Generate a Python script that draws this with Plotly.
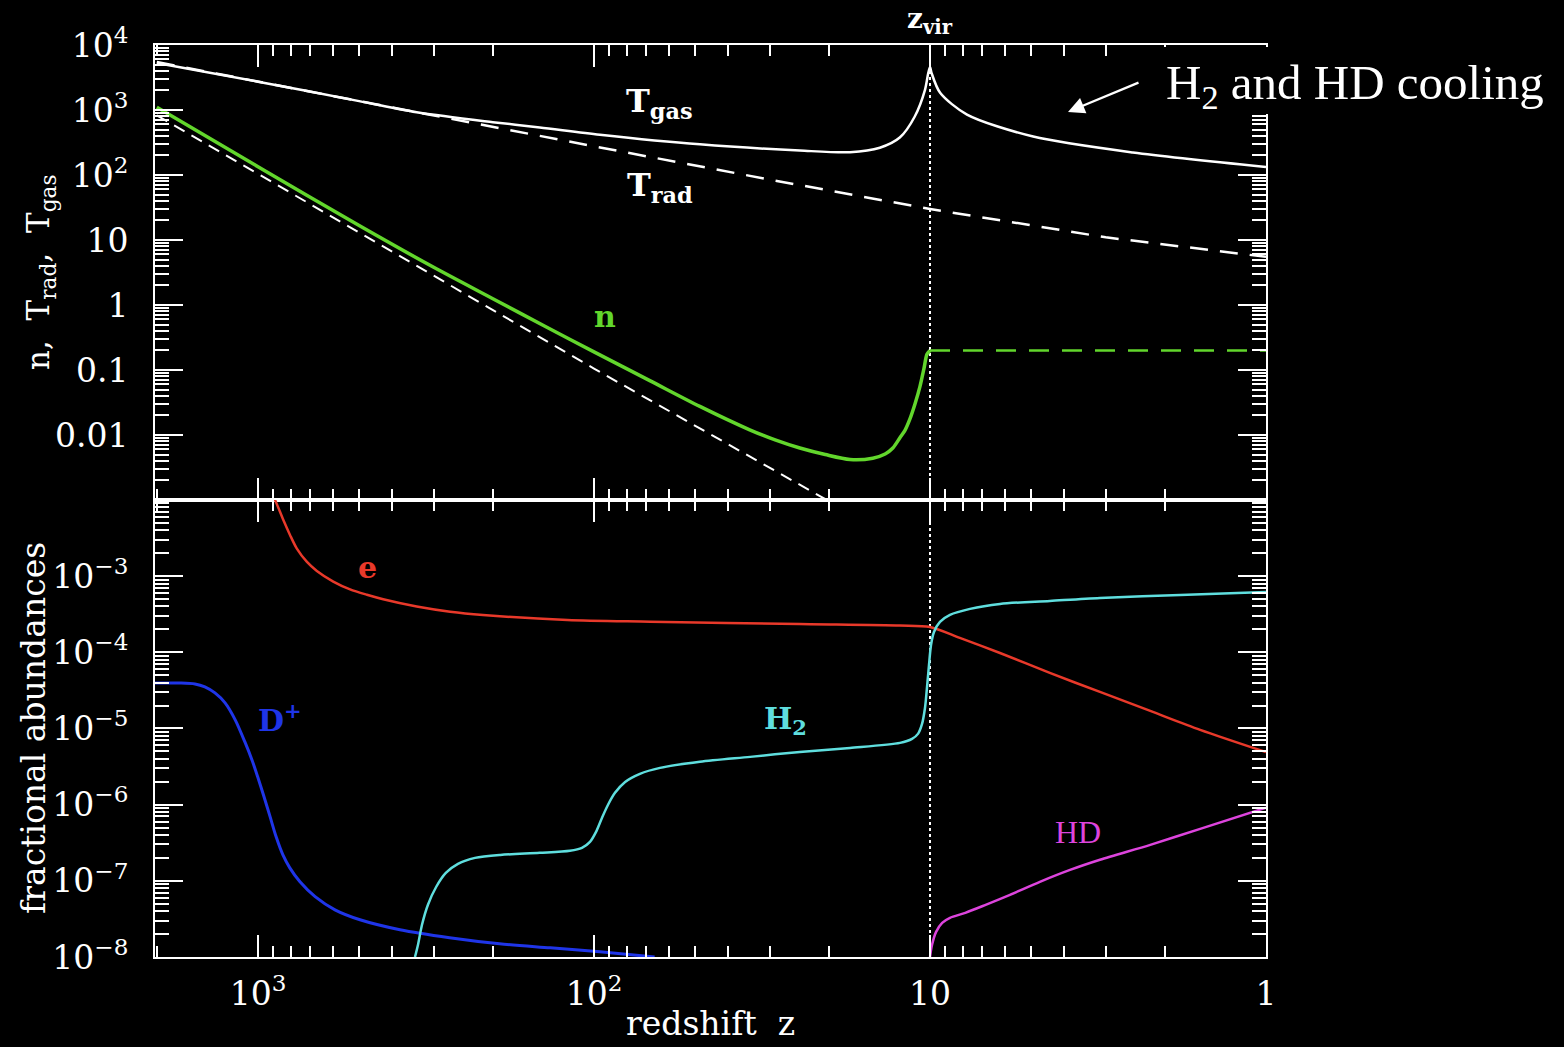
import math
import plotly.graph_objects as go
from plotly.subplots import make_subplots

# ---------------- data ----------------
Z_VIR = 10.0

# radiation temperature (K)
TRAD_Z = [2000, 1000, 300, 100, 30, 10, 3, 1]
TRAD_T = [5460, 2730, 820, 276, 85, 30, 11, 5.5]

# gas temperature (K)
TGAS_Z = [2000, 1000, 500, 330, 200, 145, 96, 48.4, 24.4, 17.3, 14.1, 12.3, 11.1,
          10.35, 10.12, 10.0, 9.89, 9.33, 7.76, 4.93, 2.49, 1]
TGAS_T = [5300, 2730, 1370, 904, 650, 540, 417, 296, 238, 224, 263, 377, 795,
          2040, 3700, 4600, 3700, 1840, 850, 390, 222, 133]

# gas number density (cm^-3) of the collapsing halo
N_Z = [2000, 1000, 500, 300, 200, 140, 100, 68, 48.4, 34.4, 28.9, 24.4, 20.5, 17.3,
       14.8, 13.6, 12.9, 12.3, 11.86, 11.48, 11.09, 10.71, 10.42, 10.21, 10.0]
N_GAS = [1100, 134, 16.7, 3.8, 1.25, 0.47, 0.19, 0.068, 0.0275, 0.012, 0.0084,
         0.0063, 0.0050, 0.0042, 0.0044, 0.0051, 0.0063, 0.0090, 0.0119, 0.0175,
         0.0297, 0.056, 0.106, 0.174, 0.2]

# virialised density after z_vir
NVIR_Z = [10, 1]
NVIR = [0.2, 0.2]

# mean background density
NBG_Z = [2000, 1000, 100, 20]
NBG = [830, 104, 0.105, 0.00096]

# fractional abundances
E_Z = [900, 883, 841, 803, 767, 716, 668, 597, 532, 474, 424, 337, 268, 214, 120, 68,
       24.4, 12.3, 10, 8.15, 6.19, 4.4, 3.12, 2.21, 1.57, 1]
E_X = [1.1e-2, 9.3e-3, 5.5e-3, 3.48e-3, 2.32e-3, 1.55e-3, 1.17e-3, 8.5e-4, 6.7e-4,
       5.7e-4, 4.98e-4, 4.0e-4, 3.42e-4, 3.1e-4, 2.66e-4, 2.53e-4, 2.35e-4, 2.25e-4,
       2.15e-4, 1.545e-4, 9.8e-5, 5.37e-5, 3.02e-5, 1.70e-5, 9.6e-6, 4.9e-6]

DP_Z = [2025, 1706, 1540, 1439, 1343, 1253, 1169, 1094, 1042, 1000, 959, 920, 883,
        843, 804, 750, 676, 590, 497, 378, 269, 191, 135, 96, 66]
DP_X = [3.96e-5, 3.96e-5, 3.85e-5, 3.52e-5, 2.93e-5, 2.17e-5, 1.30e-5, 6.67e-6,
        3.87e-6, 2.25e-6, 1.26e-6, 6.9e-7, 3.78e-7, 2.19e-7, 1.48e-7, 9.7e-8,
        6.2e-8, 4.16e-8, 3.08e-8, 2.28e-8, 1.79e-8, 1.49e-8, 1.32e-8, 1.17e-8, 1.0e-8]

H2_Z = [341, 334, 325, 312, 295, 276, 254, 226, 190, 145, 118, 108.6, 102.8, 98.6,
        94.7, 90.9, 86.6, 80.8, 73.0, 63.6, 48.4, 34.3, 24.4, 17.3, 12.28, 11.31,
        10.86, 10.56, 10.35, 10.21, 10.07, 9.93, 9.73, 9.34, 8.72, 7.60, 6.19, 4.40,
        3.12, 1.80, 1]
H2_X = [1.0e-8, 1.45e-8, 2.65e-8, 4.85e-8, 8.3e-8, 1.27e-7, 1.67e-7, 2.0e-7,
        2.19e-7, 2.33e-7, 2.48e-7, 2.71e-7, 3.25e-7, 4.4e-7, 6.7e-7, 9.9e-7, 1.43e-6,
        1.99e-6, 2.54e-6, 3.04e-6, 3.65e-6, 4.24e-6, 4.93e-6, 5.56e-6, 6.47e-6,
        7.3e-6, 8.5e-6, 1.15e-5, 1.86e-5, 3.41e-5, 6.8e-5, 1.25e-4, 1.85e-4, 2.51e-4,
        3.1e-4, 3.72e-4, 4.32e-4, 4.73e-4, 5.18e-4, 5.66e-4, 6.2e-4]

HD_Z = [10, 9.86, 9.59, 9.2, 8.72, 7.85, 6.83, 5.78, 4.71, 3.83, 3.12, 2.21, 1.57, 1]
HD_X = [1.0e-8, 1.45e-8, 2.14e-8, 2.81e-8, 3.27e-8, 3.8e-8, 4.84e-8, 6.55e-8,
        9.7e-8, 1.39e-7, 1.89e-7, 2.97e-7, 4.81e-7, 9.1e-7]

X_TICKS = [1000, 100, 10, 1]
X_TICKTEXT = ["10<sup>3</sup>", "10<sup>2</sup>", "10", "1"]
YT_TICKS = [1e4, 1e3, 1e2, 10, 1, 0.1, 0.01]
YT_TICKTEXT = ["10<sup>4</sup>", "10<sup>3</sup>", "10<sup>2</sup>", "10", "1", "0.1", "0.01"]
YB_TICKS = [1e-3, 1e-4, 1e-5, 1e-6, 1e-7, 1e-8]
YB_TICKTEXT = ["10<sup>−3</sup>", "10<sup>−4</sup>", "10<sup>−5</sup>",
               "10<sup>−6</sup>", "10<sup>−7</sup>", "10<sup>−8</sup>"]

# ---------------- styling ----------------
WHITE = "white"
GREEN = "#62d62c"
RED = "#e8392a"
BLUE = "#1f35e8"
CYAN = "#5fdede"
MAGENTA = "#dd44dd"
SERIF = "DejaVu Serif"
TICK_FONT = dict(family=SERIF, size=33, color=WHITE)

W, H = 1564, 1047
L, R, T, B = 155, 298, 45, 90
PW, PH = W - L - R, H - T - B


def px(xp):
    return (xp - L) / PW


def py(yp):
    return (H - B - yp) / PH


def minor_vals(lo, hi):
    vals = []
    for e in range(lo, hi + 1):
        for k in range(2, 10):
            vals.append(k * 10.0 ** e)
    return vals


fig = make_subplots(rows=2, cols=1, shared_xaxes=True, vertical_spacing=0)


def line(x, y, color, width, dash="solid", row=1, shape="spline"):
    fig.add_trace(go.Scatter(x=x, y=y, mode="lines",
                             line=dict(color=color, width=width, dash=dash,
                                       shape=shape, smoothing=0.8),
                             showlegend=False, hoverinfo="skip"), row=row, col=1)


# top panel
line([Z_VIR, Z_VIR], [1e-3, 1e4], WHITE, 2, dash="dot", shape="linear")
line(TRAD_Z, TRAD_T, WHITE, 2.5, dash="18px,12px", shape="linear")
line(NBG_Z, NBG, WHITE, 2, dash="12px,8px", shape="linear")
line(TGAS_Z, TGAS_T, WHITE, 2.5)
line(NVIR_Z, NVIR, GREEN, 2.5, dash="20px,13px", shape="linear")
line(N_Z, N_GAS, GREEN, 3.5)

# bottom panel
line([Z_VIR, Z_VIR], [1e-8, 1e-2], WHITE, 2, dash="dot", row=2, shape="linear")
line(DP_Z, DP_X, BLUE, 3, row=2)
line(E_Z, E_X, RED, 2.5, row=2)
line(H2_Z, H2_X, CYAN, 2.5, row=2)
line(HD_Z, HD_X, MAGENTA, 2.5, row=2)

common_axis = dict(showline=True, linecolor=WHITE, linewidth=2, mirror="ticks",
                   ticks="inside", tickcolor=WHITE, tickwidth=2, showgrid=False,
                   zeroline=False, tickfont=TICK_FONT)

fig.update_xaxes(common_axis, type="log", range=[3.3065, 0], tickvals=X_TICKS,
                 ticktext=X_TICKTEXT, ticklen=22,
                 minor=dict(tickvals=minor_vals(0, 3), ticks="inside", ticklen=11,
                            tickwidth=2, tickcolor=WHITE, showgrid=False))
fig.update_xaxes(showticklabels=False, row=1, col=1)
fig.update_xaxes(ticklabelstandoff=6, row=2, col=1)

fig.update_yaxes(common_axis, type="log", range=[-3, 4], tickvals=YT_TICKS,
                 ticktext=YT_TICKTEXT, ticklen=28, ticklabelstandoff=18,
                 domain=[0.5011, 1.0],
                 minor=dict(tickvals=minor_vals(-3, 3), ticks="inside", ticklen=14,
                            tickwidth=2, tickcolor=WHITE, showgrid=False),
                 row=1, col=1)
fig.update_yaxes(common_axis, type="log", range=[-8, -2], tickvals=YB_TICKS,
                 ticktext=YB_TICKTEXT, ticklen=28, ticklabelstandoff=18,
                 domain=[0.0, 0.5011],
                 minor=dict(tickvals=minor_vals(-8, -3), ticks="inside", ticklen=14,
                            tickwidth=2, tickcolor=WHITE, showgrid=False),
                 row=2, col=1)


def lab(text, z, val, color, size, xref="x", yref="y", family=SERIF):
    fig.add_annotation(text=text, x=math.log10(z), y=math.log10(val), xref=xref,
                       yref=yref, showarrow=False, xanchor="center", yanchor="middle",
                       font=dict(family=family, size=size, color=color))


def paper_text(text, xp, yp, size, angle=0, family=SERIF):
    fig.add_annotation(text=text, x=px(xp), y=py(yp), xref="paper", yref="paper",
                       showarrow=False, textangle=angle, xanchor="center",
                       yanchor="middle", font=dict(family=family, size=size, color=WHITE))


# curve labels
lab("<b>T<sub>gas</sub></b>", 63.7, 10 ** 3.112, WHITE, 32)
lab("<b>T<sub>rad</sub></b>", 63.7, 10 ** 1.81, WHITE, 32)
lab("<b>n</b>", 92.7, 10 ** -0.18, GREEN, 30)
lab("<b>e</b>", 471, 10 ** -2.89, RED, 30, xref="x2", yref="y2")
lab("<b>D<sup>+</sup></b>", 861, 10 ** -4.86, BLUE, 30, xref="x2", yref="y2")
lab("<b>H<sub>2</sub></b>", 27.0, 10 ** -4.89, CYAN, 30, xref="x2", yref="y2")
lab("HD", 3.63, 10 ** -6.36, MAGENTA, 32, xref="x2", yref="y2",
    family="Liberation Serif")

# z_vir marker above the frame
fig.add_annotation(text="<b>z<sub>vir</sub></b>", x=math.log10(Z_VIR), xref="x",
                   y=1.0, yref="paper", yanchor="bottom", yshift=4, xanchor="center",
                   showarrow=False, font=dict(family=SERIF, size=28, color=WHITE))

# axis titles
paper_text("n,  T<sub>rad</sub>,  T<sub>gas</sub>", 40, 272, 31, angle=-90)
paper_text("fractional abundances", 33, 728, 33, angle=-90)
paper_text("redshift  z", 710, 1023, 33)

# black panel behind the cooling note
fig.add_shape(type="rect", xref="paper", yref="paper", x0=px(1150), x1=px(1290),
              y0=py(114), y1=py(47), fillcolor="black", line=dict(width=0),
              layer="above")
paper_text("H<sub>2</sub> and HD cooling", 1355, 85, 49, family="Liberation Serif")
fig.add_annotation(text="", x=px(1068), y=py(112), xref="paper", yref="paper",
                   showarrow=True, ax=72, ay=-30, arrowhead=2, arrowsize=1.5,
                   arrowwidth=2.2, arrowcolor=WHITE)

fig.update_layout(width=W, height=H, margin=dict(l=L, r=R, t=T, b=B),
                  paper_bgcolor="black", plot_bgcolor="black", showlegend=False)

fig.write_html("out.html")
